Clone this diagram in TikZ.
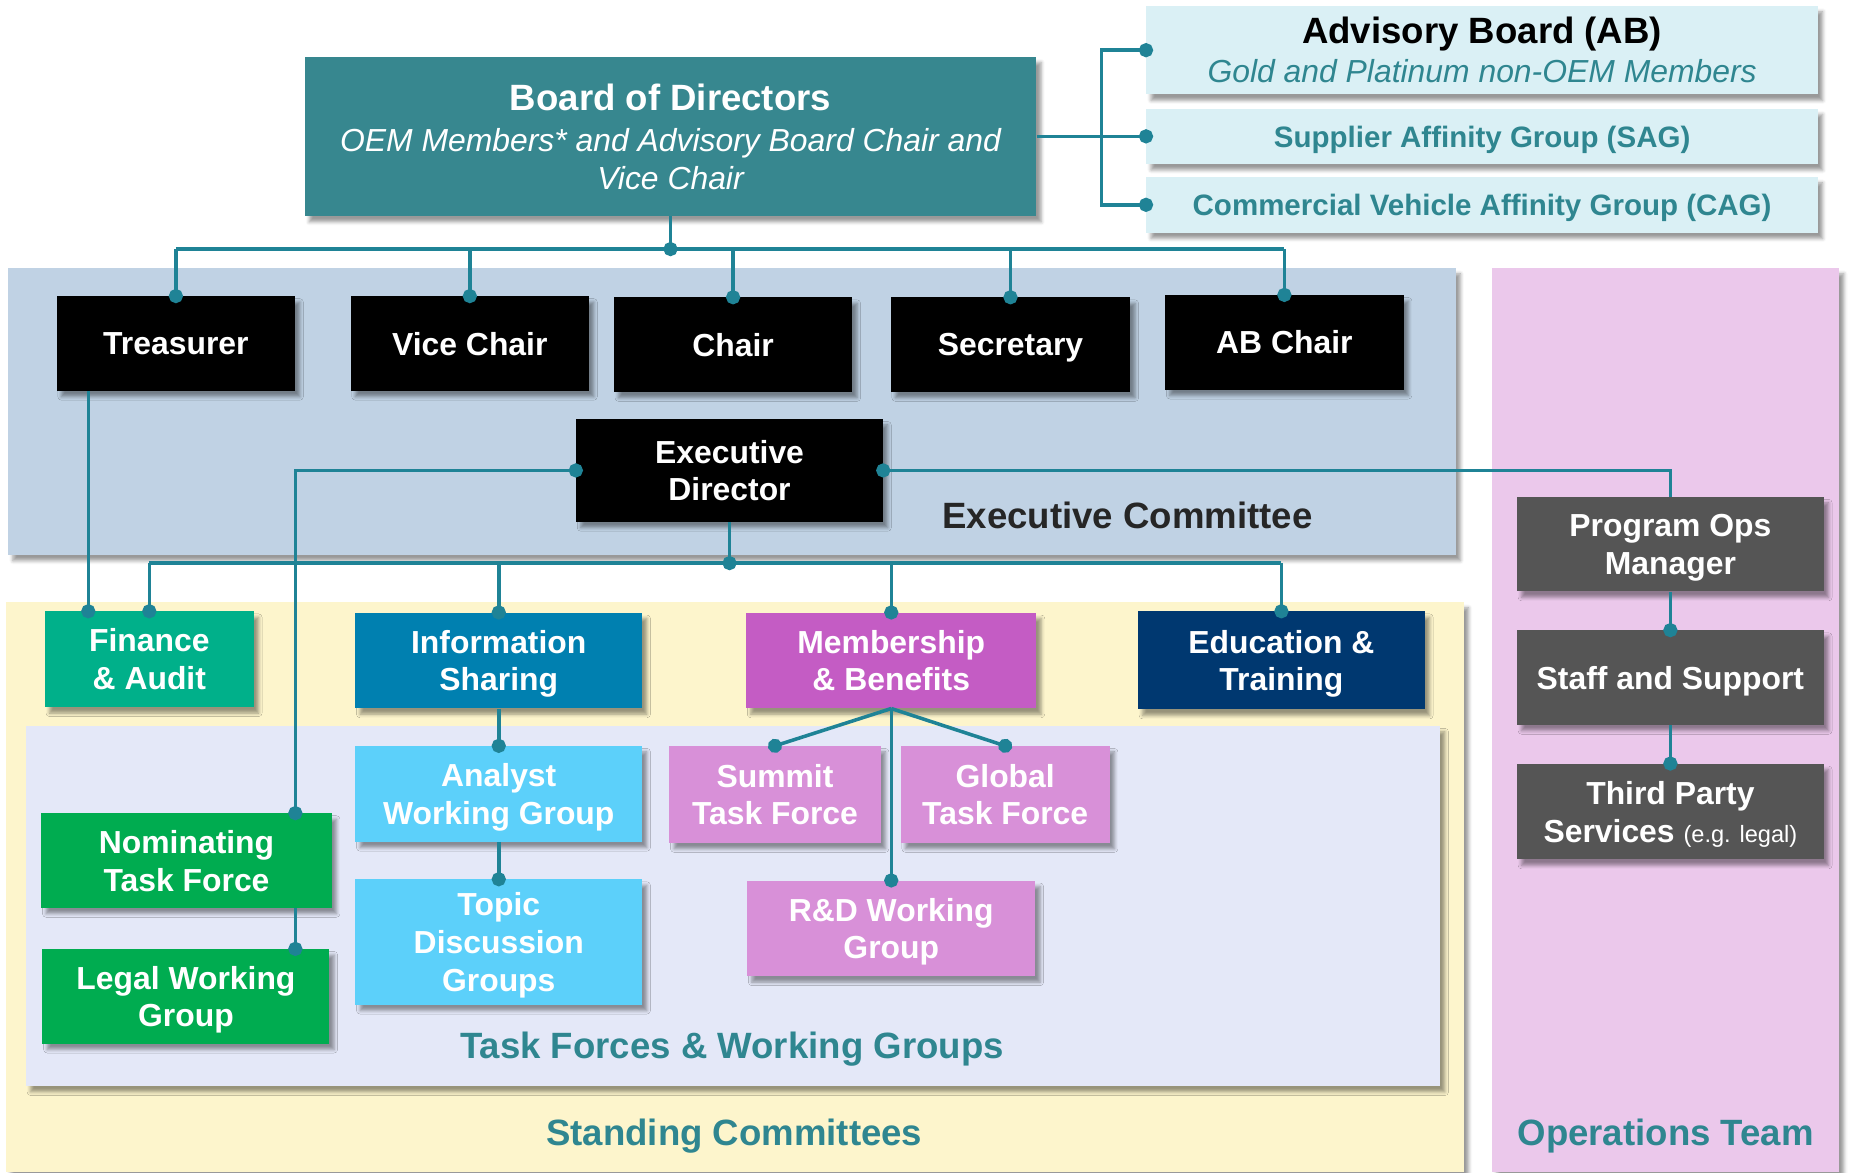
\documentclass[tikz,border=0pt]{standalone}
\usepackage{fontspec}
\setmainfont{Liberation Sans}
\usetikzlibrary{arrows.meta,shadows.blur,calc}

\definecolor{bodteal}{HTML}{37878F}
\definecolor{linkteal}{HTML}{1F8396}
\definecolor{txtteal}{HTML}{2F8690}
\definecolor{abfill}{HTML}{DAF0F5}
\definecolor{execbg}{HTML}{C0D2E4}
\definecolor{standbg}{HTML}{FDF5CC}
\definecolor{tfbg}{HTML}{E4E8F8}
\definecolor{opsbg}{HTML}{EBC8EB}
\definecolor{finfill}{HTML}{00B08A}
\definecolor{infofill}{HTML}{0080B0}
\definecolor{memfill}{HTML}{C45CC4}
\definecolor{edufill}{HTML}{003870}
\definecolor{tfgreen}{HTML}{00AC50}
\definecolor{tfblue}{HTML}{5CD0FA}
\definecolor{tfpink}{HTML}{D890D8}
\definecolor{opsfill}{HTML}{555555}

\newcommand{\boxfont}{\bfseries\fontsize{27}{32}\selectfont}
\newcommand{\secfont}{\bfseries\fontsize{31}{36}\selectfont}

\begin{document}
\begin{tikzpicture}[x=1pt, y=-1pt,
	boxshadow/.style={blur shadow={shadow xshift=4pt, shadow yshift=-5pt, shadow blur radius=3pt, shadow opacity=40}},
	orgbox/.style={rectangle, inner sep=0pt, align=center, text=white, font=\boxfont, text depth=0pt, minimum width=243pt, minimum height=81pt, boxshadow},
	blk/.style={orgbox, fill=black, minimum width=202pt, minimum height=80pt},
	link/.style={draw=linkteal, line width=3pt},
	dotend/.style={-{Circle[length=12pt]}, shorten >=-6pt},
	dotstart/.style={{Circle[length=12pt]}-, shorten <=-6pt},
	dotboth/.style={{Circle[length=12pt]}-{Circle[length=12pt]}, shorten <=-6pt, shorten >=-6pt},
	seclabel/.style={font=\secfont, text=txtteal, anchor=base}]
		\useasboundingbox (0,0) rectangle (1568,993);

		% panels
		\fill[execbg, boxshadow] (7,227) rectangle (1233,470);
		\fill[standbg, boxshadow] (5,510) rectangle (1240,993);
		\fill[opsbg, boxshadow] (1264,227) rectangle (1558,993);
		\fill[tfbg, boxshadow] (22,615) rectangle (1220,920);

		% board and advisory board
		\node[orgbox, fill=bodteal, minimum width=620pt, minimum height=135pt, font=\fontsize{27}{32}\selectfont] (BD)at(568, 115.5) {{\bfseries\fontsize{31}{32}\selectfont Board of Directors}\\[3pt]\itshape OEM Members* and Advisory Board Chair and\\\itshape Vice Chair};
		\node[orgbox, fill=abfill, text=txtteal, minimum width=569pt, minimum height=75pt, font=\fontsize{27}{33}\selectfont] (AB)at(1255.5, 42.5) {{\color{black}\bfseries\fontsize{31}{33}\selectfont Advisory Board (AB)}\\\itshape Gold and Platinum non-OEM Members};
		\node[orgbox, fill=abfill, text=txtteal, minimum width=569pt, minimum height=47pt, font=\bfseries\fontsize{25}{30}\selectfont] (SAG)at(1255.5, 115.5) {Supplier Affinity Group (SAG)};
		\node[orgbox, fill=abfill, text=txtteal, minimum width=569pt, minimum height=47pt, font=\bfseries\fontsize{25}{30}\selectfont] (CAG)at(1255.5, 173.5) {Commercial Vehicle Affinity Group (CAG)};

		% executive committee
		\node[blk] (T)at(149, 291) {Treasurer};
		\node[blk] (VC)at(398, 291) {Vice Chair};
		\node[blk] (C)at(621, 292) {Chair};
		\node[blk, minimum width=203pt] (S)at(856, 292) {Secretary};
		\node[blk] (ABC)at(1088, 290) {AB Chair};
		\node[blk, minimum width=260pt, minimum height=87pt] (ED)at(618, 398.5) {Executive\\Director};
		\node[font=\secfont, text=black!85, anchor=base] (EC)at(955, 448) {Executive Committee};

		% standing committees
		\node[orgbox, fill=finfill, minimum width=177pt] (FA)at(126.5, 558.5) {Finance\\\& Audit};
		\node[orgbox, fill=infofill] (IS)at(422.5, 559.5) {Information\\Sharing};
		\node[orgbox, fill=memfill, minimum width=246pt] (MB)at(755, 559.5) {Membership\\\& Benefits};
		\node[orgbox, fill=edufill, minimum height=83pt] (ET)at(1085.5, 559.5) {Education \&\\Training};
		\node[seclabel] (SCL)at(622, 970) {Standing Committees};

		% task forces and working groups
		\node[orgbox, fill=tfgreen, minimum width=246pt, minimum height=80pt] (NT)at(158, 729) {Nominating\\Task Force};
		\node[orgbox, fill=tfgreen, minimum height=80pt] (LW)at(157.5, 844) {Legal Working\\Group};
		\node[orgbox, fill=tfblue] (AW)at(422.5, 672.5) {Analyst\\Working Group};
		\node[orgbox, fill=tfblue, minimum height=106pt] (TD)at(422.5, 798) {Topic\\Discussion\\Groups};
		\node[orgbox, fill=tfpink, minimum width=179pt, minimum height=82pt] (ST)at(656.5, 673) {Summit\\Task Force};
		\node[orgbox, fill=tfpink, minimum width=177pt, minimum height=82pt] (GT)at(851.5, 673) {Global\\Task Force};
		\node[orgbox, fill=tfpink, minimum width=244pt] (RD)at(755, 786.5) {R\&D Working\\Group};
		\node[seclabel] (TFL)at(620, 897) {Task Forces \& Working Groups};

		% operations team
		\node[orgbox, fill=opsfill, minimum width=260pt, minimum height=80pt] (PO)at(1415, 461) {Program Ops\\Manager};
		\node[orgbox, fill=opsfill, minimum width=260pt, minimum height=80pt] (SS)at(1415, 574) {Staff and Support};
		\node[orgbox, fill=opsfill, minimum width=260pt] (TP)at(1415, 687.5) {Third Party\\Services {\mdseries\fontsize{20}{32}\selectfont (e.g. legal)}};
		\node[seclabel] (OTL)at(1411, 970) {Operations Team};

		% connectors
		\coordinate (bus)at(563, 211);
		\coordinate (brk)at(933, 116);
		\coordinate (sbus)at(618, 477);
		\draw[link, dotend] (BD.east) -- (SAG.west);
		\draw[link, dotboth] (AB.west) -| (brk) |- (CAG.west);
		\draw[link, dotend] (BD.south) -- (BD.south |- bus);
		\draw[link] (T.north |- bus) -- (ABC.north |- bus);
		\draw[link, dotend] (T.north |- bus) -- (T.north);
		\draw[link, dotend] (VC.north |- bus) -- (VC.north);
		\draw[link, dotend] (C.north |- bus) -- (C.north);
		\draw[link, dotend] (S.north |- bus) -- (S.north);
		\draw[link, dotend] (ABC.north |- bus) -- (ABC.north);
		\draw[link, dotboth] (ED.west) -| ($(NT.north east)+(-31,0)$);
		\draw[link, dotstart] (ED.east) -| (PO.north);
		\draw[link, dotend] (ED.south) -- (ED.south |- sbus);
		\draw[link] (FA.north |- sbus) -- (ET.north |- sbus);
		\draw[link, dotend] (FA.north |- sbus) -- (FA.north);
		\draw[link, dotend] (IS.north |- sbus) -- (IS.north);
		\draw[link, dotend] (MB.north |- sbus) -- (MB.north);
		\draw[link, dotend] (ET.north |- sbus) -- (ET.north);
		\draw[link, dotend] ($(T.south west)+(27,0)$) -- ($(FA.north west)+(37,0)$);
		\draw[link, dotend] (IS.south) -- (AW.north);
		\draw[link, dotend] (AW.south) -- (TD.north);
		\draw[link, dotend] (MB.south) -- (ST.north);
		\draw[link, dotend] (MB.south) -- (GT.north);
		\draw[link, dotend] (MB.south) -- (RD.north);
		\draw[link, dotend] ($(NT.south east)+(-31,0)$) -- ($(LW.north east)+(-29,0)$);
		\draw[link, dotend] (PO.south) -- (SS.north);
		\draw[link, dotend] (SS.south) -- (TP.north);
\end{tikzpicture}
\end{document}
